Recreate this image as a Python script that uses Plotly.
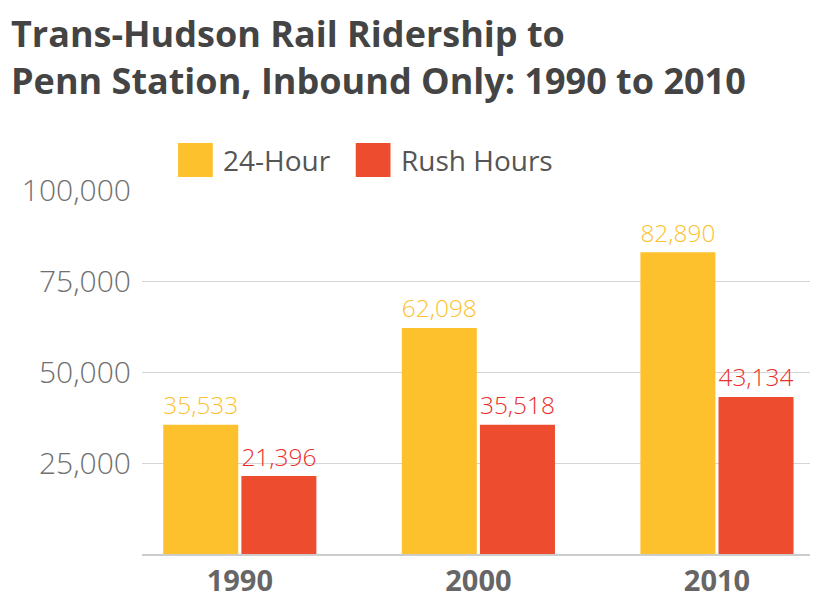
import plotly.graph_objects as go

years = ["1990", "2000", "2010"]
all_day = [35533, 62098, 82890]
rush = [21396, 35518, 43134]
series_names = ["24-Hour", "Rush Hours"]
y_ticks = [25000, 50000, 75000, 100000]
y_tick_labels = ["25,000", "50,000", "75,000", "100,000"]

yellow = "#FDC12E"
red = "#EE4C2F"
font = "Open Sans"

fig = go.Figure()
fig.add_trace(go.Bar(
    x=years, y=all_day, name=series_names[0],
    marker=dict(color=yellow, line=dict(width=0)),
    text=[f"{v:,}" for v in all_day], textposition="outside",
    textfont=dict(family=font, color=yellow, size=26, weight=300),
    cliponaxis=False,
))
fig.add_trace(go.Bar(
    x=years, y=rush, name=series_names[1],
    marker=dict(color=red, line=dict(width=0)),
    text=[f"{v:,}" for v in rush], textposition="outside",
    textfont=dict(family=font, color="#E8302A", size=26, weight=300),
    cliponaxis=False,
))

# legend drawn by hand: big square swatches above the plot
for x0, col, label, tx in [(0.054, yellow, series_names[0], 0.118),
                           (0.320, red, series_names[1], 0.385)]:
    fig.add_shape(type="rect", xref="paper", yref="paper",
                  x0=x0, x1=x0 + 0.052, y0=1.036, y1=1.129,
                  fillcolor=col, line=dict(width=0))
    fig.add_annotation(text=label, xref="paper", yref="paper", x=tx, y=1.082,
                       xanchor="left", yanchor="middle", showarrow=False,
                       font=dict(family=font, size=28, color="#555"))

fig.add_annotation(
    text="Trans-Hudson Rail Ridership to<br>Penn Station, Inbound Only: 1990 to 2010",
    xref="paper", yref="paper", x=-0.199, y=1.503, xanchor="left", yanchor="top",
    align="left", showarrow=False,
    font=dict(family=font, size=36, color="#444", weight=700),
)

fig.update_layout(
    width=839, height=606,
    margin=dict(l=134, r=37, t=182, b=60),
    paper_bgcolor="white", plot_bgcolor="white",
    font=dict(family=font, color="#666"),
    barmode="group", bargap=0.345, bargroupgap=0.04,
    showlegend=False,
)
fig.update_xaxes(range=[-0.41, 2.39], showline=True, linecolor="#ccc", linewidth=1.5,
                 ticks="", tickfont=dict(size=29, color="#666", weight=700))
fig.update_yaxes(range=[0, 100000], tickvals=y_ticks, ticktext=y_tick_labels,
                 showgrid=True, gridcolor="#d6d6d6", gridwidth=1.2, zeroline=False,
                 ticks="", ticklabelstandoff=10,
                 tickfont=dict(size=30, color="#707070", weight=300))

fig.write_html("out.html")
